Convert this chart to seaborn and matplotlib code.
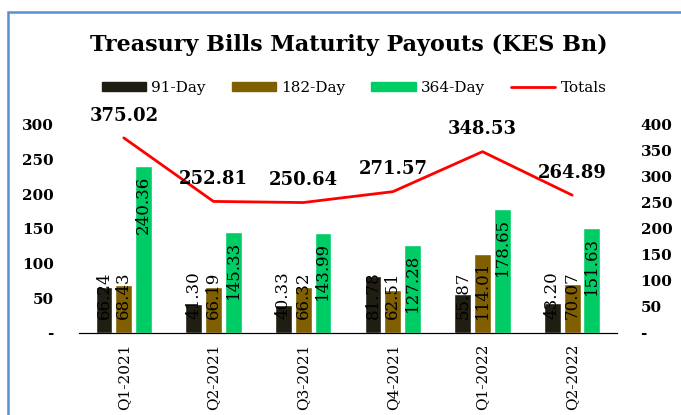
import numpy as np
import pandas as pd
import matplotlib
matplotlib.use("Agg")
import matplotlib.pyplot as plt
import seaborn as sns
from matplotlib.patches import Patch, Rectangle
from matplotlib.lines import Line2D
from matplotlib.ticker import FuncFormatter

quarters = ["Q1-2021", "Q2-2021", "Q3-2021", "Q4-2021", "Q1-2022", "Q2-2022"]
day91 = [66.24, 41.30, 40.33, 81.78, 55.87, 43.20]
day182 = [68.43, 66.19, 66.32, 62.51, 114.01, 70.07]
day364 = [240.36, 145.33, 143.99, 127.28, 178.65, 151.63]
totals = [375.02, 252.81, 250.64, 271.57, 348.53, 264.89]

tenors = ["91-Day", "182-Day", "364-Day"]
colors = ["#201d12", "#7f5f00", "#00cc66"]

df = pd.DataFrame({
    "Quarter": quarters * 3,
    "Tenor": [t for t in tenors for _ in quarters],
    "Value": day91 + day182 + day364,
})

sns.set_style("white")
plt.rcParams["font.family"] = ["DejaVu Serif"]
for k in ["text.color", "axes.labelcolor", "xtick.color", "ytick.color"]:
    plt.rcParams[k] = "black"

fig = plt.figure(figsize=(6.81, 4.15), dpi=100)
ax = fig.add_axes([0.116, 0.198, 0.79, 0.501])

sns.barplot(data=df, x="Quarter", y="Value", hue="Tenor", palette=colors,
            width=0.66, gap=0.15, ax=ax, legend=False, saturation=1)
ax.set_xlim(-0.5, 5.5)
ax.set_ylim(0, 300)
ax.set_xlabel("")
ax.set_ylabel("")

# rotated value labels inside the bars, pushed up when the bar is short
renderer = fig.canvas.get_renderer()
offsets = [-0.22, 0, 0.22]
for k, vals in enumerate([day91, day182, day364]):
    for i, v in enumerate(vals):
        t = ax.text(i + offsets[k], v - 13, f"{v:.2f}", rotation=90, ha="center",
                    va="top", fontsize=12, color="black")
        bb = t.get_window_extent(renderer).transformed(ax.transData.inverted())
        if bb.y0 < 20:
            t.set_y(20)
            t.set_va("bottom")

ax2 = ax.twinx()
sns.lineplot(x=np.arange(len(quarters)), y=totals, color="#ff0000",
             linewidth=2, ax=ax2)
ax2.set_ylim(0, 400)
for i, v in enumerate(totals):
    ax2.annotate(f"{v:.2f}", (i, v), xytext=(0, 16), textcoords="offset points",
                 ha="center", va="center", fontsize=13, fontweight="bold")

fmt = FuncFormatter(lambda v, p: "-" if v == 0 else f"{v:.0f}")
ax.set_yticks(np.arange(0, 301, 50))
ax2.set_yticks(np.arange(0, 401, 50))
ax.yaxis.set_major_formatter(fmt)
ax2.yaxis.set_major_formatter(fmt)
for a in (ax, ax2):
    for s in ["top", "left", "right"]:
        a.spines[s].set_visible(False)
    a.spines["bottom"].set_color("black")
    a.tick_params(length=0)
ax.tick_params(axis="y", labelsize=11, pad=18)
ax2.tick_params(axis="y", labelsize=11, pad=17)
for lab in ax.get_yticklabels() + ax2.get_yticklabels():
    lab.set_fontweight("bold")
ax.tick_params(axis="x", labelsize=11, rotation=90, pad=8)

fig.text(0.512, 0.892, "Treasury Bills Maturity Payouts (KES Bn)",
         ha="center", va="center", fontsize=16, fontweight="bold")

handles = [Patch(color=c) for c in colors] + [Line2D([], [], color="#ff0000", linewidth=2)]
fig.legend(handles, tenors + ["Totals"], loc="center", bbox_to_anchor=(0.52, 0.788),
           ncol=4, frameon=False, fontsize=11, handlelength=2.9, handleheight=0.6,
           columnspacing=1.7, handletextpad=0.35)

fig.patches.append(Rectangle((7.5 / 681, -0.1), 1.2, 1.1 - 12 / 415, transform=fig.transFigure,
                             fill=False, edgecolor="#5b8fd6", linewidth=1.8))

fig.savefig("out.png", dpi=100)
